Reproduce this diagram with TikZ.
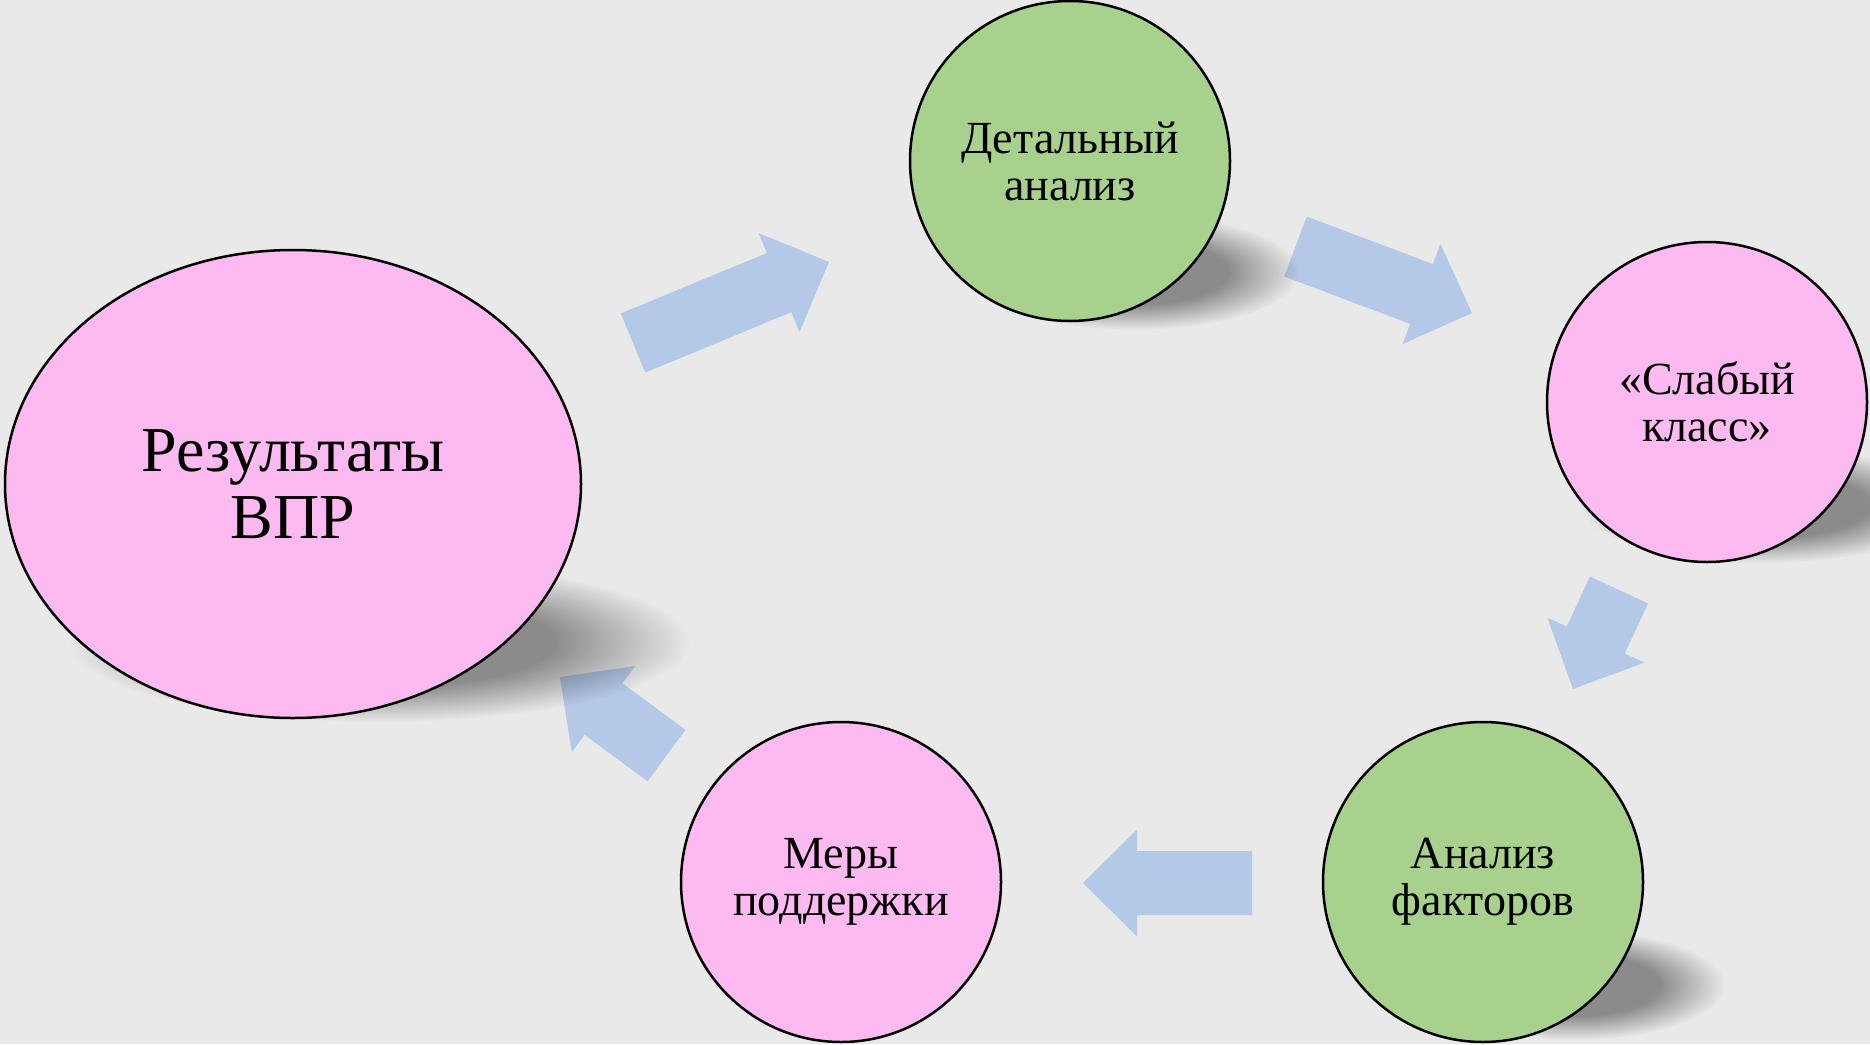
\documentclass[tikz,border=0pt]{standalone}
\usepackage{fontspec}
\setmainfont{Liberation Serif}
\usetikzlibrary{calc,fadings,shapes.geometric}
\definecolor{bg}{HTML}{E9E9E9}
\definecolor{pinkfill}{HTML}{FDBAF0}
\definecolor{greenfill}{HTML}{A9D18E}
\definecolor{arrowblue}{HTML}{B4C8E7}
\pgfdeclareradialshading{shfadeshade}{\pgfpointorigin}{color(0bp)=(white); color(14bp)=(white); color(25bp)=(black); color(50bp)=(black)}
\pgfdeclarefading{shfade}{\pgfuseshading{shfadeshade}}
\tikzset{
  stage/.style={circle, draw=black, line width=2.5pt, minimum size=320pt, inner sep=0pt, align=center, font=\fontsize{46}{47}\selectfont},
  pinkstage/.style={stage, fill=pinkfill},
  greenstage/.style={stage, fill=greenfill},
  bigstage/.style={ellipse, draw=black, line width=2.5pt, fill=pinkfill, minimum width=576pt, minimum height=468pt, inner sep=0pt, align=center, font=\fontsize{64}{67}\selectfont},
  arrowfill/.style={fill=arrowblue},
  shadowfill/.style={fill=black, opacity=0.4, path fading=shfade},
}
% block arrow from tail coordinate #1 to tip coordinate #2
\newcommand{\blkarrow}[2]{%
  \coordinate (#1-b) at ($(#2)!54pt!(#1)$);
  \fill[arrowfill] ($(#1)!32pt!90:(#2)$) -- ($(#1-b)!32pt!90:(#2)$) -- ($(#1-b)!53.5pt!90:(#2)$) -- (#2) -- ($(#1-b)!53.5pt!-90:(#2)$) -- ($(#1-b)!32pt!-90:(#2)$) -- ($(#1)!32pt!-90:(#2)$) -- cycle;}
\begin{document}
\begin{tikzpicture}[x=1pt,y=-1pt]
\useasboundingbox (0,0) rectangle (1870,1044);
\clip (0,0) rectangle (1870,1044);
\fill[bg] (0,0) rectangle (1870,1044);

% arrow ends
\coordinate (a1t) at (633,343);    \coordinate (a1p) at (829,262);
\coordinate (a2t) at (1295.5,246.5); \coordinate (a2p) at (1472,313);
\coordinate (a3t) at (1619,590);   \coordinate (a3p) at (1573,689);
\coordinate (a4t) at (1252,883);   \coordinate (a4p) at (1083,883);
\coordinate (a5t) at (666.5,755.5); \coordinate (a5p) at (560,677);

\blkarrow{a1t}{a1p}
\blkarrow{a2t}{a2p}
\blkarrow{a3t}{a3p}
\blkarrow{a4t}{a4p}
\blkarrow{a5t}{a5p}

% shadows
\fill[shadowfill] (380,642) ellipse [x radius=310, y radius=80];
\fill[shadowfill] (1135,272) ellipse [x radius=165, y radius=58];
\fill[shadowfill] (1765,505) ellipse [x radius=185, y radius=58];
\fill[shadowfill] (1575,985) ellipse [x radius=150, y radius=55];

% stages
\node[bigstage] (res) at (293,484) {Результаты\\ВПР};
\node[greenstage] (det) at (1070,161) {Детальный\\анализ};
\node[pinkstage] (weak) at (1707,402) {«Слабый\\класс»};
\node[greenstage] (fact) at (1483,882) {Анализ\\факторов};
\node[pinkstage] (supp) at (841,882) {Меры\\поддержки};
\end{tikzpicture}
\end{document}
